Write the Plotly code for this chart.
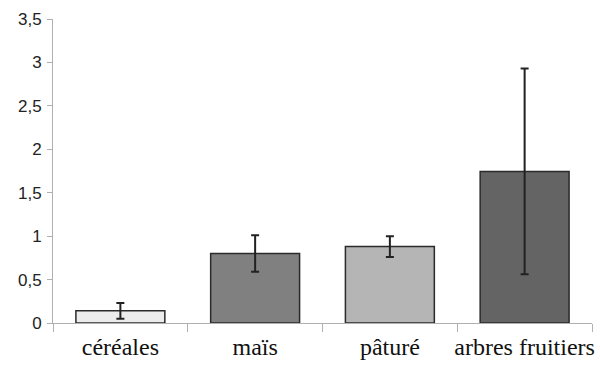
import plotly.graph_objects as go

categories = ["céréales", "maïs", "pâturé", "arbres fruitiers"]
values = [0.14, 0.80, 0.88, 1.745]
errors = [0.09, 0.21, 0.12, 1.185]
colors = ["#ececec", "#808080", "#b5b5b5", "#646464"]

fig = go.Figure(go.Bar(
    x=categories, y=values,
    marker=dict(color=colors, line=dict(color="#2a2a2a", width=1.5)),
    error_y=dict(type="data", array=errors, visible=True, color="#222222", thickness=2, width=4),
    width=0.66,
))

fig.update_layout(
    width=600, height=365,
    margin=dict(l=53, r=8, t=19, b=42),
    plot_bgcolor="white", paper_bgcolor="white",
    separators=", ",
    showlegend=False,
)
fig.update_yaxes(
    range=[0, 3.5], dtick=0.5, showgrid=False, zeroline=False,
    showline=True, linecolor="#b0b0b0", linewidth=1,
    ticks="outside", ticklen=5, tickcolor="#b0b0b0",
    ticklabelstandoff=2, automargin=False,
    tickfont=dict(family="Liberation Sans, Arial", size=17, color="#222222"),
)
fig.update_xaxes(
    showgrid=False, showline=True, linecolor="#b0b0b0", linewidth=1,
    ticks="outside", tickson="boundaries", ticklen=8, tickcolor="#b0b0b0",
    tickangle=0, ticklabelstandoff=2, automargin=False,
    tickfont=dict(family="Liberation Serif, Times New Roman", size=24, color="#111111"),
)

fig.write_html("out.html")
